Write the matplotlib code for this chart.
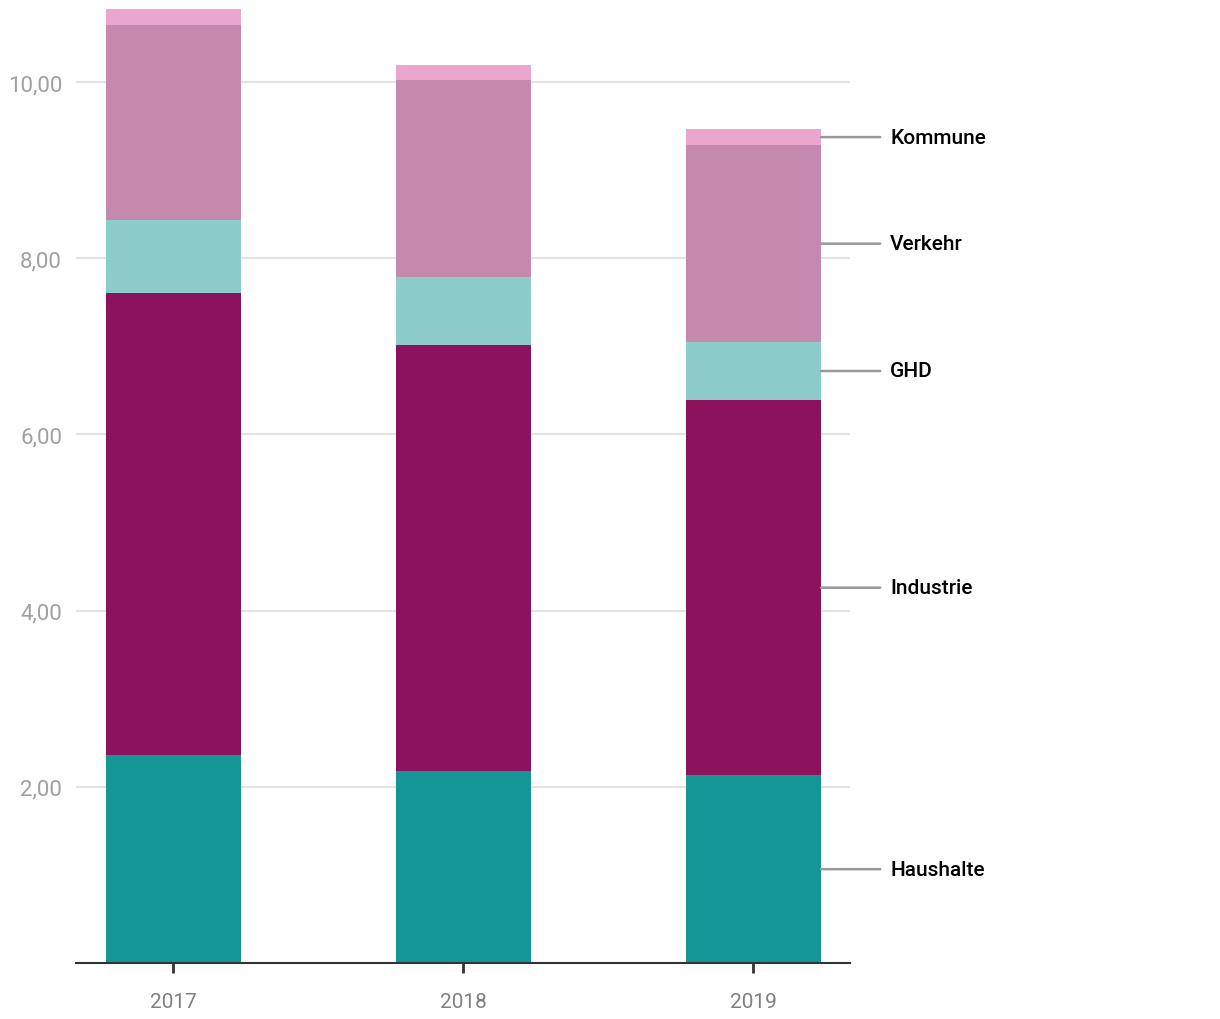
import matplotlib.pyplot as plt
import numpy as np

plt.rcParams['font.family'] = ['Roboto', 'DejaVu Sans']

years = ['2017', '2018', '2019']
categories = ['Haushalte', 'Industrie', 'GHD', 'Verkehr', 'Kommune']
haushalte = [2.36, 2.18, 2.13]
industrie = [5.24, 4.83, 4.26]
ghd = [0.83, 0.78, 0.66]
verkehr = [2.22, 2.23, 2.23]
kommune = [0.18, 0.17, 0.19]
yticks = [2, 4, 6, 8, 10]

colors = ['#149696', '#8c125e', '#8ccccb', '#c689ae', '#eba6d0']
series = [haushalte, industrie, ghd, verkehr, kommune]

fig = plt.figure(figsize=(12.2, 10.2), dpi=100)
ax = fig.add_axes([76 / 1220, 56 / 1020, (850 - 76) / 1220, (964 - 4) / 1020])

x = np.arange(len(years))
bottom = np.zeros(len(years))
for vals, col in zip(series, colors):
    ax.bar(x, vals, width=0.4655, bottom=bottom, color=col, zorder=2)
    bottom += np.array(vals)

ax.set_xlim(-0.336, 2.333)
ax.set_ylim(0, 10.897)
ax.set_yticks(yticks)
ax.set_yticklabels([f'{v:.2f}'.replace('.', ',') for v in yticks])
ax.set_xticks(x)
ax.set_xticklabels(years)
ax.grid(axis='y', color='#e3e3e3', linewidth=1.5, zorder=0)
ax.set_axisbelow(True)

for s in ['top', 'right', 'left']:
    ax.spines[s].set_visible(False)
ax.spines['bottom'].set_color('#333333')
ax.spines['bottom'].set_linewidth(1.5)
ax.tick_params(axis='y', length=0, labelsize=16, labelcolor='#a0a0a0', pad=10)
ax.tick_params(axis='x', length=7, width=2, color='#333333', labelsize=15,
               labelcolor='#808080', pad=14, direction='out')

# labels at the 2019 bar
last = [s[-1] for s in series]
cum = np.cumsum([0] + last)
for i, name in enumerate(categories):
    mid = (cum[i] + cum[i + 1]) / 2
    ax.annotate(name, xy=(2 + 0.4655 / 2, mid), xycoords='data',
                xytext=(890 / 1220, mid), textcoords=('figure fraction', 'data'),
                va='center', ha='left', fontsize=15, color='black',
                fontweight='medium', annotation_clip=False,
                arrowprops=dict(arrowstyle='-', color='#999999', lw=1.8,
                                shrinkA=5, shrinkB=0))

fig.savefig('out.png', dpi=100)
